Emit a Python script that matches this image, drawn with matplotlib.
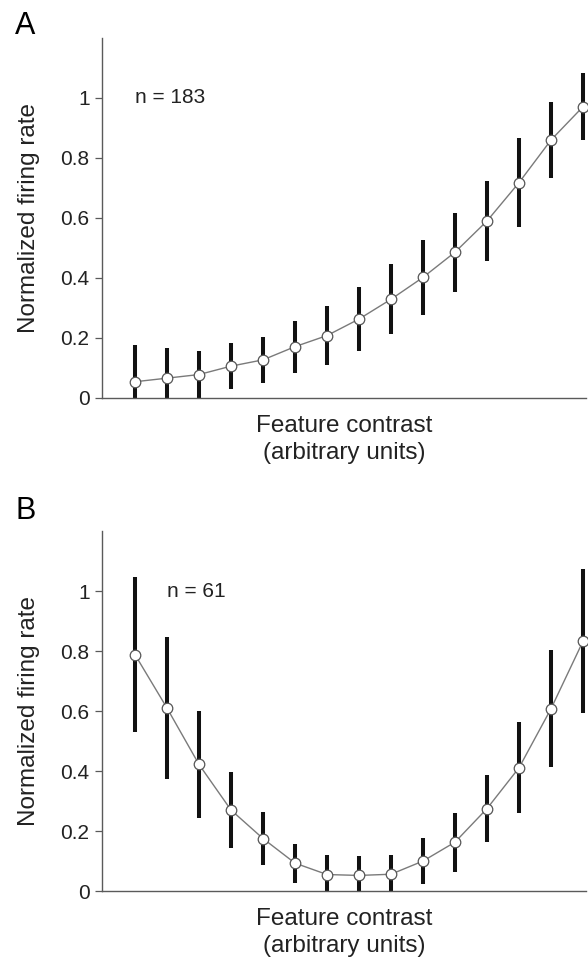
import matplotlib
matplotlib.use("Agg")
import matplotlib.pyplot as plt
import matplotlib.ticker as tck
import numpy as np

plt.rcParams['font.family'] = ['Liberation Sans', 'DejaVu Sans']

# ------ data:
contrast_steps = np.arange(1, 16)

rate_A = [0.054, 0.066, 0.078, 0.106, 0.127, 0.171, 0.208, 0.263,
          0.329, 0.402, 0.486, 0.590, 0.718, 0.860, 0.971]
err_A = [0.123, 0.100, 0.079, 0.076, 0.077, 0.087, 0.099, 0.106,
         0.117, 0.125, 0.132, 0.134, 0.148, 0.128, 0.111]

rate_B = [0.788, 0.610, 0.422, 0.270, 0.175, 0.093, 0.055, 0.052,
          0.056, 0.100, 0.163, 0.275, 0.411, 0.608, 0.833]
err_B = [0.258, 0.237, 0.177, 0.128, 0.088, 0.065, 0.066, 0.064,
         0.063, 0.078, 0.098, 0.113, 0.152, 0.194, 0.239]

yticks = [0, 0.2, 0.4, 0.6, 0.8, 1]
# ------------

axis_col = "#5a5a5a"
text_col = "#222222"


def ticks(value, pos):
    return f'{value:g}'


def draw_panel(ax, rates, errs, n_text, n_x):
    ax.errorbar(contrast_steps, rates, yerr=errs, fmt="none", ecolor="#111111",
                elinewidth=2.9, capsize=0, zorder=2)
    ax.plot(contrast_steps, rates, color="#7a7a7a", linewidth=1.0, zorder=3)
    ax.plot(contrast_steps, rates, linestyle="none", marker="o", markersize=7.6,
            markerfacecolor="white", markeredgecolor="#555555",
            markeredgewidth=0.9, zorder=4, clip_on=False)

    ax.set_xlim(-0.03, 15.09)
    ax.set_ylim(0, 1.2)
    ax.set_yticks(yticks)
    ax.yaxis.set_major_formatter(tck.FuncFormatter(ticks))
    ax.set_xticks([])
    for side in ["top", "right"]:
        ax.spines[side].set_visible(False)
    for side in ["left", "bottom"]:
        ax.spines[side].set_color(axis_col)
        ax.spines[side].set_linewidth(1.0)
    ax.tick_params(axis="y", direction="out", length=5, width=0.9,
                   color=axis_col, labelsize=15, labelcolor=text_col, pad=4)

    ax.set_ylabel("Normalized firing rate", fontsize=17.5, color=text_col)
    ax.yaxis.set_label_coords(-0.128, 0.5)
    ax.set_xlabel("Feature contrast\n(arbitrary units)", fontsize=17.5,
                  color=text_col, linespacing=1.3)
    ax.xaxis.set_label_coords(0.5, -0.046)
    ax.text(n_x, 1.0, n_text, fontsize=15, color=text_col, ha="left", va="center")


fig = plt.figure(figsize=(5.88, 9.58), dpi=100)
axA = fig.add_axes([0.1735, 0.5846, 0.823, 0.3758])
axB = fig.add_axes([0.1735, 0.0699, 0.823, 0.3758])

draw_panel(axA, rate_A, err_A, "n = 183", 1.0)
draw_panel(axB, rate_B, err_B, "n = 61", 2.0)

# panel letters, placed in figure pixels
fig.text(15 / 588, 1 - 34 / 958, "A", fontsize=22, color="black", ha="left", va="baseline")
fig.text(15 / 588, 1 - 519 / 958, "B", fontsize=22, color="black", ha="left", va="baseline")

plt.savefig("out.png", dpi=100)
